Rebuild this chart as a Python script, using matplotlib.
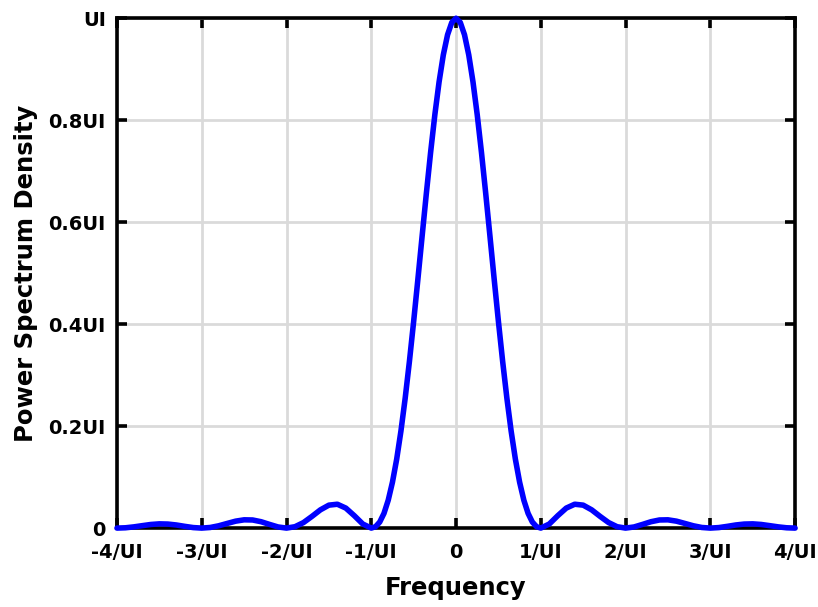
import matplotlib
matplotlib.use('Agg')
import matplotlib.pyplot as plt

plt.rcParams['font.family'] = ['DejaVu Sans']

# 频率（单位 1/UI）与功率谱密度（单位 UI）
freq = [-4.0, -3.9, -3.8, -3.7, -3.6, -3.5, -3.4, -3.3, -3.2, -3.1,
        -3.0, -2.9, -2.8, -2.7, -2.6, -2.5, -2.4, -2.3, -2.2, -2.1,
        -2.0, -1.9, -1.8, -1.7, -1.6, -1.5, -1.4, -1.3, -1.2, -1.1,
        -1.0, -0.95, -0.9, -0.85, -0.8, -0.75, -0.7, -0.65, -0.6, -0.55,
        -0.5, -0.45, -0.4, -0.35, -0.3, -0.25, -0.2, -0.15, -0.1, -0.05,
        0.0, 0.05, 0.1, 0.15, 0.2, 0.25, 0.3, 0.35, 0.4, 0.45,
        0.5, 0.55, 0.6, 0.65, 0.7, 0.75, 0.8, 0.85, 0.9, 0.95,
        1.0, 1.1, 1.2, 1.3, 1.4, 1.5, 1.6, 1.7, 1.8, 1.9,
        2.0, 2.1, 2.2, 2.3, 2.4, 2.5, 2.6, 2.7, 2.8, 2.9,
        3.0, 3.1, 3.2, 3.3, 3.4, 3.5, 3.6, 3.7, 3.8, 3.9, 4.0]
psd = [0.0, 0.0006, 0.0024, 0.0048, 0.0071, 0.0083, 0.0079, 0.0061, 0.0034, 0.0010,
       0.0, 0.0012, 0.0045, 0.0091, 0.0136, 0.0162, 0.0159, 0.0125, 0.0072, 0.0022,
       0.0, 0.0027, 0.0108, 0.0229, 0.0358, 0.0450, 0.0468, 0.0392, 0.0243, 0.0080,
       0.0, 0.0027, 0.0119, 0.0289, 0.0547, 0.0901, 0.1353, 0.1904, 0.2546, 0.3268,
       0.4053, 0.4881, 0.5728, 0.6566, 0.7368, 0.8106, 0.8751, 0.9281, 0.9675, 0.9918,
       1.0, 0.9918, 0.9675, 0.9281, 0.8751, 0.8106, 0.7368, 0.6566, 0.5728, 0.4881,
       0.4053, 0.3268, 0.2546, 0.1904, 0.1353, 0.0901, 0.0547, 0.0289, 0.0119, 0.0027,
       0.0, 0.0080, 0.0243, 0.0392, 0.0468, 0.0450, 0.0358, 0.0229, 0.0108, 0.0027,
       0.0, 0.0022, 0.0072, 0.0125, 0.0159, 0.0162, 0.0136, 0.0091, 0.0045, 0.0012,
       0.0, 0.0010, 0.0034, 0.0061, 0.0079, 0.0083, 0.0071, 0.0048, 0.0024, 0.0006, 0.0]

xticks = [-4, -3, -2, -1, 0, 1, 2, 3, 4]
xlabels = ['-4/UI', '-3/UI', '-2/UI', '-1/UI', '0', '1/UI', '2/UI', '3/UI', '4/UI']
yticks = [0, 0.2, 0.4, 0.6, 0.8, 1.0]
ylabels = ['0', '0.2UI', '0.4UI', '0.6UI', '0.8UI', 'UI']

fig = plt.figure(figsize=(8.18, 6.07), dpi=100)
ax = fig.add_axes([0.143, 0.130, 0.829, 0.840])

ax.plot(freq, psd, color='#0000ff', linewidth=4, solid_capstyle='round',
        solid_joinstyle='round', zorder=3, clip_on=False)

ax.set_xlim(-4, 4)
ax.set_ylim(0, 1)
ax.set_xticks(xticks)
ax.set_xticklabels(xlabels)
ax.set_yticks(yticks)
ax.set_yticklabels(ylabels)

ax.grid(True, color='#dadada', linewidth=2)
ax.set_axisbelow(True)

for sp in ax.spines.values():
    sp.set_linewidth(2.6)
    sp.set_color('black')

ax.tick_params(direction='in', length=7, width=2.6, top=True, right=True,
               labelsize=14, colors='black')
ax.tick_params(axis='x', pad=11)
ax.tick_params(axis='y', pad=8)
for lab in ax.get_xticklabels() + ax.get_yticklabels():
    lab.set_fontweight('bold')

ax.set_xlabel('Frequency', fontsize=17.5, fontweight='bold', labelpad=10)
ax.set_ylabel('Power Spectrum Density', fontsize=17.5, fontweight='bold', labelpad=8)

fig.savefig('out.png', dpi=100, facecolor='white')
